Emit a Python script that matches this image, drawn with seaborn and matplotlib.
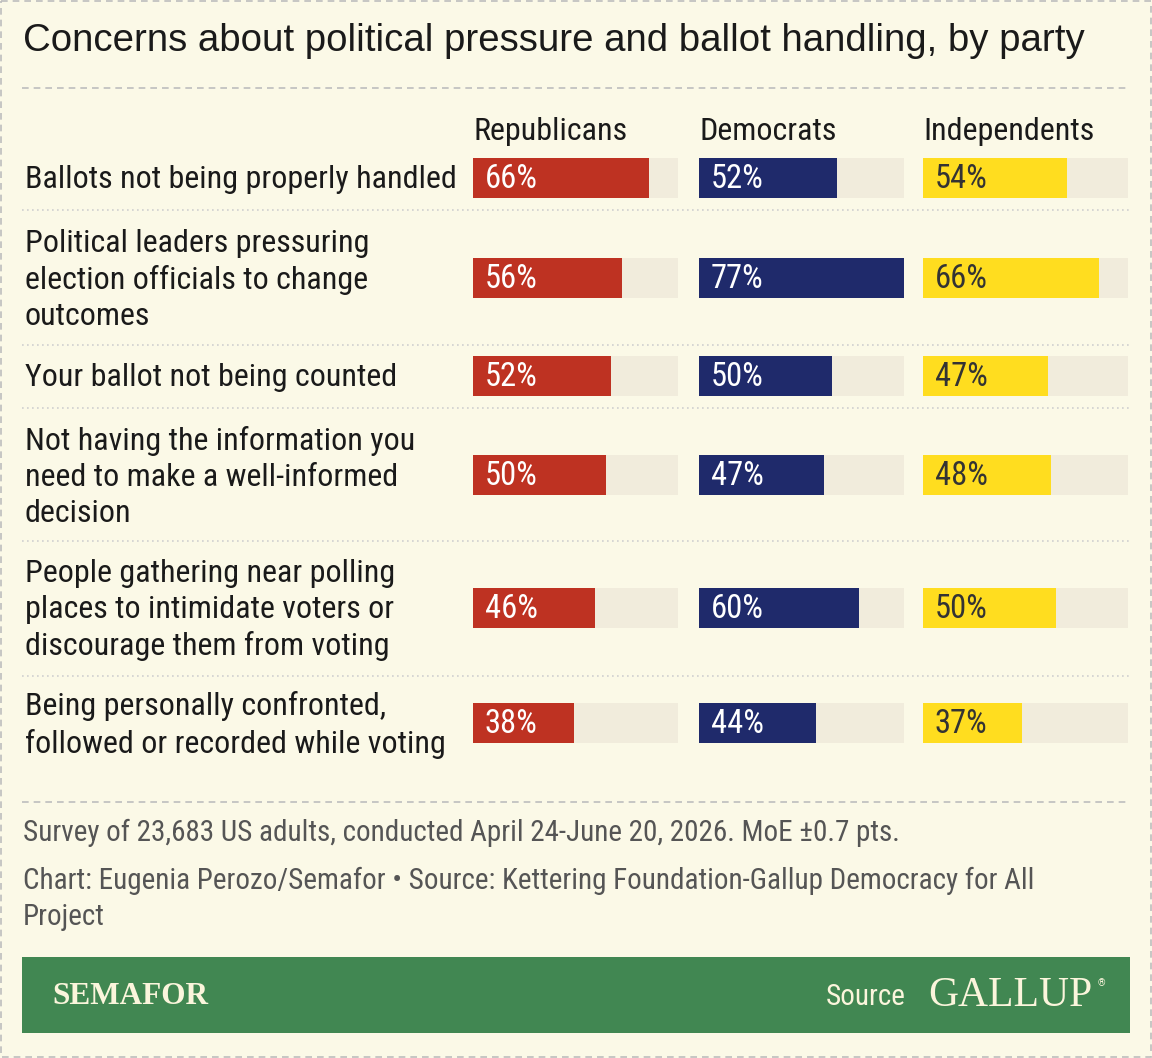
import matplotlib
matplotlib.use("Agg")
import matplotlib.pyplot as plt
import seaborn as sns
from matplotlib.patches import Rectangle

# data
categories = [
    "Ballots not being properly handled",
    "Political leaders pressuring\nelection officials to change\noutcomes",
    "Your ballot not being counted",
    "Not having the information you\nneed to make a well-informed\ndecision",
    "People gathering near polling\nplaces to intimidate voters or\ndiscourage them from voting",
    "Being personally confronted,\nfollowed or recorded while voting",
]
parties = ["Republicans", "Democrats", "Independents"]
republicans = [66, 56, 52, 50, 46, 38]
democrats = [52, 77, 50, 47, 60, 44]
independents = [54, 66, 47, 48, 50, 37]

# layout (pixels)
W, H = 1152, 1058
row_y = [178, 278, 376, 475, 608, 723]
sep_y = [210, 345, 408, 541, 676]
panel_x = [473, 699, 923]
panel_w = 205
bar_h = 40

bg = "#FBF9E7"
track = "#F1ECDC"
colors = ["#BE3222", "#1F2A6B", "#FFDD1F"]
text_colors = ["white", "white", "#333333"]

sns.set_theme(style="white")
narrow = ["Liberation Sans Narrow", "Roboto Condensed", "DejaVu Sans"]
plt.rcParams["font.family"] = narrow

fig = plt.figure(figsize=(W / 100, H / 100), dpi=100)
fig.patch.set_facecolor(bg)

# background axes in pixel coords for text and rules
base = fig.add_axes([0, 0, 1, 1])
base.set_xlim(0, W)
base.set_ylim(H, 0)
base.axis("off")

base.add_patch(Rectangle((1, 1), W - 2, H - 2, fill=False, ec="#BDBDBD",
                         lw=1.2, ls=(0, (4, 3))))
base.text(23, 41, "Concerns about political pressure and ballot handling, by party",
          fontsize=27.6, color="#1a1a1a", va="center", ha="left",
          family=["Liberation Sans", "DejaVu Sans"])
base.plot([22, 1130], [88, 88], color="#BDBDBD", lw=1.2, ls=(0, (4, 3)))
for y in sep_y:
    base.plot([22, 1130], [y, y], color="#CFCFCF", lw=1.2, ls=(0, (1, 2)))
base.plot([22, 1130], [802, 802], color="#BDBDBD", lw=1.2, ls=(0, (4, 3)))

for label, y in zip(categories, row_y):
    base.text(25, y + 2, label, fontsize=23, color="#1a1a1a", va="center",
              ha="left", linespacing=1.31)

for name, x in zip(parties, panel_x):
    base.text(x, 131, name, fontsize=23, color="#1a1a1a", va="center", ha="left")

# bar panels
values = [republicans, democrats, independents]
top, bottom = 140, 760
for i, (vals, x) in enumerate(zip(values, panel_x)):
    ax = fig.add_axes([x / W, 1 - bottom / H, panel_w / W, (bottom - top) / H])
    ax.set_xlim(0, 77)
    ax.set_ylim(bottom, top)
    ax.axis("off")
    ax.barh(row_y, [77] * len(vals), height=bar_h, color=track, lw=0)
    ax.barh(row_y, vals, height=bar_h, color=colors[i], lw=0)
    for v, y in zip(vals, row_y):
        ax.text(4.5, y + 1, f"{v}%", fontsize=23.5, color=text_colors[i],
                va="center", ha="left")

# footer
base.text(23, 833, "Survey of 23,683 US adults, conducted April 24-June 20, 2026. MoE \u00b10.7 pts.",
          fontsize=21, color="#555555", va="center", ha="left")
base.text(23, 881, "Chart: Eugenia Perozo/Semafor \u2022 Source: Kettering Foundation-Gallup Democracy for All",
          fontsize=21, color="#555555", va="center", ha="left")
base.text(23, 917, "Project", fontsize=21, color="#555555", va="center", ha="left")

base.add_patch(Rectangle((22, 957), 1108, 76, color="#418752", lw=0))
base.text(52, 996, "SEMAFOR", fontsize=22.5, color="#FBF5DC", weight="bold",
          va="center", ha="left", family=["Liberation Serif", "DejaVu Serif"])
base.text(906, 997, "Source", fontsize=21, color="#FBF5DC", va="center", ha="right")
base.text(928, 996, "GALLUP", fontsize=30, color="#FBF5DC", va="center", ha="left",
          family=["Liberation Serif", "DejaVu Serif"])
base.text(1098, 983, "\u00ae", fontsize=7, color="#FBF5DC", va="center", ha="left")

fig.savefig("out.png", dpi=100, facecolor=bg)
